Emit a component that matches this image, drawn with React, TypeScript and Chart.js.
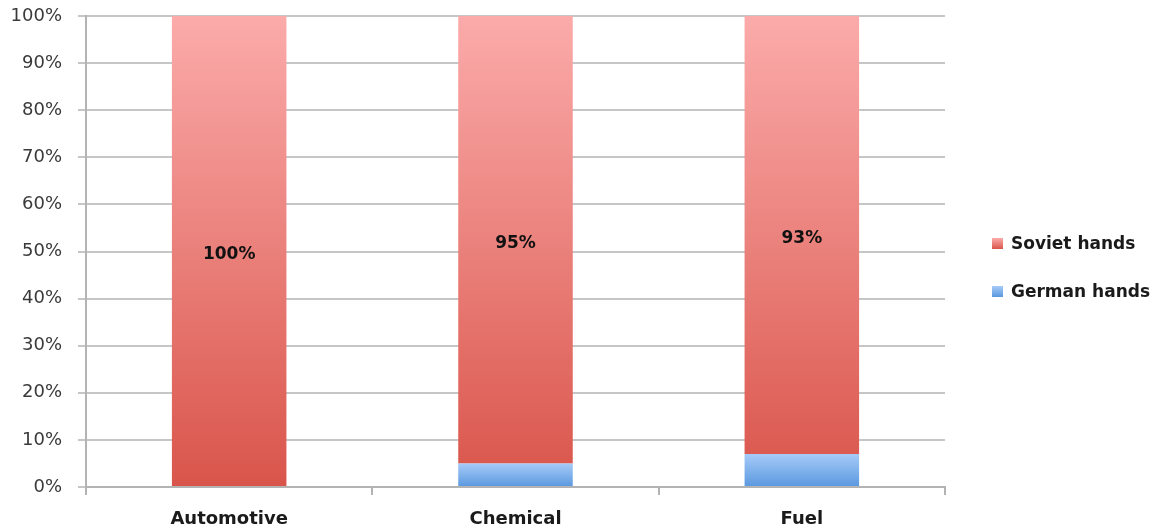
import React, { useEffect, useRef } from "react";
import { Chart, registerables } from "chart.js";

Chart.register(...registerables);

const categories = ["Automotive", "Chemical", "Fuel"];
const germanHands = [0, 5, 7];
const sovietHands = [100, 95, 93];
const seriesNames = ["German hands", "Soviet hands"];
const yTickStep = 10;

const FONT = "'DejaVu Sans', sans-serif";

const redTop = "#fbabaa";
const redBottom = "#d9554b";
const blueTop = "#a6cbf8";
const blueBottom = "#5a98df";

function redFill(ctx: any) {
  const chart = ctx.chart;
  if (!chart.chartArea || !chart.scales || !chart.scales.y) return "#ec7b74";
  const y = chart.scales.y;
  const top = y.getPixelForValue(100);
  const bottom = y.getPixelForValue(0);
  const g = chart.ctx.createLinearGradient(0, top, 0, bottom);
  g.addColorStop(0, redTop);
  g.addColorStop(1, redBottom);
  return g;
}

function blueFill(ctx: any) {
  const chart = ctx.chart;
  if (!chart.chartArea || !chart.scales || !chart.scales.y) return "#7fb2ec";
  const y = chart.scales.y;
  const v = ctx.raw || 0;
  const top = y.getPixelForValue(v);
  const bottom = y.getPixelForValue(0);
  if (bottom - top < 1) return blueBottom;
  const g = chart.ctx.createLinearGradient(0, top, 0, bottom);
  g.addColorStop(0, blueTop);
  g.addColorStop(1, blueBottom);
  return g;
}

const labelPlugin = {
  id: "innerLabels",
  afterDatasetsDraw(chart: any) {
    const meta = chart.getDatasetMeta(1);
    const data = chart.data.datasets[1].data;
    const c = chart.ctx;
    c.save();
    c.font = `bold 17px ${FONT}`;
    c.fillStyle = "#111";
    c.textAlign = "center";
    c.textBaseline = "middle";
    meta.data.forEach((el: any, i: number) => {
      const v = data[i];
      if (!v) return;
      c.fillText(v + "%", el.x, (el.y + el.base) / 2 + 4);
    });
    c.restore();
  },
};

export default function App() {
  const ref = useRef<HTMLCanvasElement | null>(null);

  useEffect(() => {
    document.body.style.margin = "0";
    document.body.style.overflow = "hidden";
    if (!ref.current) return;
    const chart = new Chart(ref.current, {
      type: "bar",
      data: {
        labels: categories,
        datasets: [
          {
            label: seriesNames[0],
            data: germanHands,
            backgroundColor: blueFill as any,
            borderWidth: 0,
            barPercentage: 0.4,
            categoryPercentage: 1,
          },
          {
            label: seriesNames[1],
            data: sovietHands,
            backgroundColor: redFill as any,
            borderWidth: 0,
            barPercentage: 0.4,
            categoryPercentage: 1,
          },
        ],
      },
      options: {
        animation: false,
        responsive: false,
        maintainAspectRatio: false,
        layout: { padding: { top: 16, right: 222, left: 0, bottom: 0 } },
        plugins: {
          legend: { display: false },
          tooltip: { enabled: false },
        },
        scales: {
          x: {
            stacked: true,
            afterFit: (s: any) => {
              s.height = 45;
              s.paddingLeft = 0;
              s.paddingRight = 0;
            },
            grid: {
              display: true,
              drawOnChartArea: false,
              drawTicks: true,
              tickLength: 8,
              color: "#b3b3b3",
              lineWidth: 2,
              offset: true,
            },
            border: { color: "#b3b3b3", width: 2 },
            ticks: {
              font: { family: FONT, size: 18, weight: "bold" },
              color: "#1a1a1a",
              padding: 14,
            },
          },
          y: {
            stacked: true,
            min: 0,
            max: 100,
            afterFit: (s: any) => {
              s.width = 86;
              s.paddingTop = 0;
              s.paddingBottom = 0;
            },
            grid: {
              color: "#c6c6c6",
              lineWidth: 2,
              tickLength: 8,
              drawTicks: true,
            },
            border: { color: "#b3b3b3", width: 2 },
            ticks: {
              stepSize: yTickStep,
              callback: (v: any) => v + "%",
              font: { family: FONT, size: 18 },
              color: "#3a3a3a",
              padding: 16,
            },
          },
        },
      },
      plugins: [labelPlugin],
    });
    return () => chart.destroy();
  }, []);

  const legendItems = [
    { name: seriesNames[1], top: 237, grad: `linear-gradient(${redTop}, ${redBottom})` },
    { name: seriesNames[0], top: 285, grad: `linear-gradient(${blueTop}, ${blueBottom})` },
  ];

  return (
    <div style={{ position: "relative", width: 1167, height: 532 }}>
      <canvas ref={ref} width={1167} height={532} style={{ display: "block" }} />
      {legendItems.map((it) => (
        <div
          key={it.name}
          style={{
            position: "absolute",
            left: 992,
            top: it.top - 4,
            display: "flex",
            alignItems: "center",
            height: 20,
            fontFamily: FONT,
            fontWeight: "bold",
            fontSize: 17,
            color: "#1a1a1a",
            whiteSpace: "nowrap",
          }}
        >
          <span
            style={{
              display: "inline-block",
              width: 11,
              height: 11,
              background: it.grad,
              marginRight: 8,
            }}
          />
          {it.name}
        </div>
      ))}
    </div>
  );
}
